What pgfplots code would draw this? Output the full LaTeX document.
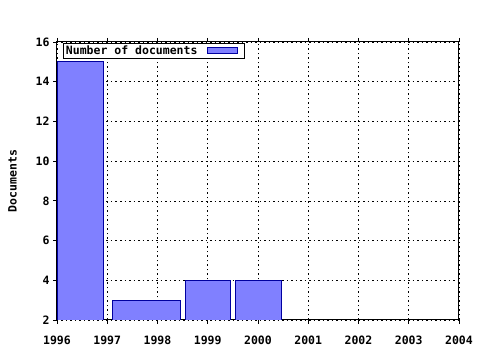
\documentclass[border=0pt]{standalone}
\usepackage{pgfplots}
\pgfplotsset{compat=1.18}
\usepackage{fontspec}
\setmainfont{DejaVu Sans Mono}
\definecolor{barfill}{RGB}{128,128,255}
\definecolor{barline}{RGB}{0,0,160}
\begin{document}
\begin{tikzpicture}[x=1pt,y=1pt]
\useasboundingbox (-57,-30) rectangle (423,320);
\begin{axis}[
  at={(0,0)}, anchor=south west,
  scale only axis, width=402pt, height=278pt,
  xmin=1996, xmax=2004, ymin=2, ymax=16,
  xtick={1996,...,2004}, ytick={2,4,...,16},
  minor x tick num=3,
  xtick pos=both, ytick pos=left,
  tick align=outside,
  major tick length=4pt, minor tick length=3pt,
  x tick label style={/pgf/number format/1000 sep={}},
  /pgf/number format/assume math mode=true,
  tick label style={font=\bfseries\fontsize{11.5}{12}\selectfont},
  xticklabel style={anchor=base, yshift=-21pt},
  label style={font=\bfseries\fontsize{11.5}{12}\selectfont},
  ylabel={Documents},
  ylabel style={yshift=12pt},
  axis line style={black, line width=1pt},
  tick style={black, line width=0.8pt},
  grid=major,
  major grid style={black, line width=0.7pt, dash pattern=on 1.5pt off 3pt},
  legend style={at={(0.015,0.997)}, anchor=north west, draw=black, line width=0.8pt,
    font=\bfseries\fontsize{11.5}{12}\selectfont, inner sep=0.5pt, row sep=-2pt,
    cells={anchor=west}},
  legend plot pos=right,
  legend image code/.code={\path[draw=none,fill=none] (0pt,0pt) -- (44pt,0pt);\draw[#1, line width=0.8pt] (8pt,-3pt) rectangle (38pt,3pt);},
]
\addplot[fill=barfill, draw=barline, line width=0.8pt] coordinates {(1996,2) (1996,15) (1996.92,15) (1996.92,2)} -- cycle;
\addlegendentry{Number of documents}
\addplot[fill=barfill, draw=barline, line width=0.8pt, forget plot] coordinates {(1997.10,2) (1997.10,3) (1998.46,3) (1998.46,2)} -- cycle;
\addplot[fill=barfill, draw=barline, line width=0.8pt, forget plot] coordinates {(1998.55,2) (1998.55,4) (1999.46,4) (1999.46,2)} -- cycle;
\addplot[fill=barfill, draw=barline, line width=0.8pt, forget plot] coordinates {(1999.55,2) (1999.55,4) (2000.47,4) (2000.47,2)} -- cycle;
\end{axis}
\end{tikzpicture}
\end{document}
